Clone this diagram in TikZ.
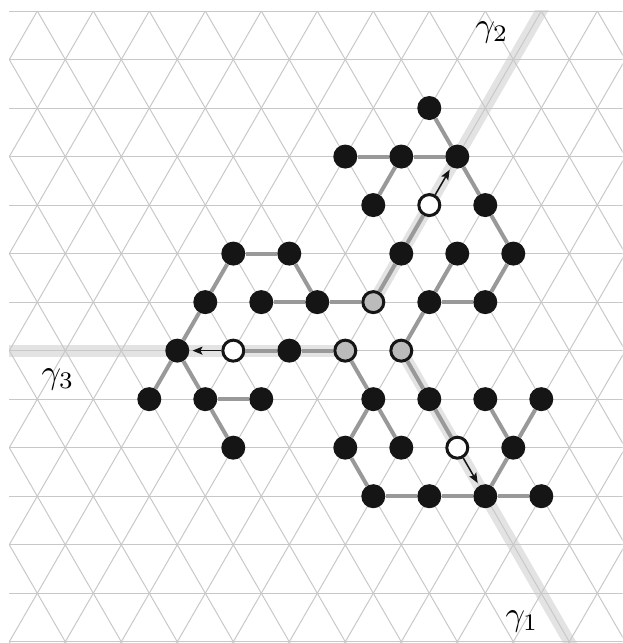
\documentclass[tikz,border=0pt]{standalone}
\usepackage{graphicx}
\usetikzlibrary{arrows.meta}
\definecolor{gridc}{HTML}{C8C8C8}
\definecolor{edgec}{HTML}{999999}
\definecolor{bandc}{HTML}{E3E3E3}
\definecolor{nodec}{HTML}{151515}
\definecolor{grayc}{HTML}{BBBBBB}
\begin{document}
\begin{tikzpicture}[x=28pt,y=-48.52pt,
  gridline/.style={draw=gridc,line width=1pt},
  band/.style={draw=bandc,line width=12pt},
  edge/.style={draw=edgec,line width=4pt},
  blk/.style={circle,fill=nodec,minimum size=24pt,inner sep=0pt},
  wht/.style={circle,fill=white,draw=nodec,line width=3pt,minimum size=21pt,inner sep=0pt},
  gry/.style={circle,fill=grayc,draw=nodec,line width=3pt,minimum size=21pt,inner sep=0pt},
  arr/.style={draw=nodec,line width=1.5pt,-{Stealth[length=10pt,width=8pt,inset=2pt]},shorten >=3pt},
  lab/.style={inner sep=0pt}]
\useasboundingbox (-9.3pt,11pt) rectangle (612.7pt,-632pt);
\begin{scope}
  \clip (-0.01,-0.01) rectangle (21.9,13.1);
  \draw[band] (12,7) -- (-1,7);
  \draw[band] (13,6) -- (19.5,-0.5);
  \draw[band] (14,7) -- (20.5,13.5);
  \foreach \r in {0,...,13} \draw[gridline] (-1,\r) -- (23,\r);
  \foreach \c in {-15,-13,...,23} \draw[gridline] (\c,0) -- ++(14,14);
  \foreach \c in {1,3,...,37} \draw[gridline] (\c,0) -- ++(-14,14);
\end{scope}
% black nodes
\foreach \c/\r in {15/2,12/3,14/3,16/3,13/4,17/4,14/5,16/5,18/5,15/6,17/6,
  8/5,10/5,7/6,9/6,11/6,6/7,10/7,5/8,7/8,9/8,8/9,
  13/8,15/8,17/8,19/8,12/9,14/9,18/9,13/10,15/10,17/10,19/10}
  \node[blk] (v\c-\r) at (\c,\r) {};
% white nodes
\node[wht] (v15-4) at (15,4) {};
\node[wht] (v8-7) at (8,7) {};
\node[wht] (v16-9) at (16,9) {};
% gray nodes
\node[gry] (v13-6) at (13,6) {};
\node[gry] (v12-7) at (12,7) {};
\node[gry] (v14-7) at (14,7) {};
% edges
\foreach \a/\b in {15-2/16-3,12-3/14-3,14-3/16-3,14-3/13-4,16-3/17-4,17-4/18-5,18-5/17-6,17-6/15-6,15-6/16-5,15-6/14-7,
  8-5/10-5,8-5/7-6,10-5/11-6,11-6/13-6,9-6/11-6,7-6/6-7,6-7/5-8,6-7/7-8,7-8/9-8,7-8/8-9,
  12-7/13-8,13-8/12-9,13-8/14-9,12-9/13-10,13-10/15-10,15-10/17-10,17-10/19-10,17-10/18-9,18-9/17-8,18-9/19-8,
  13-6/14-5,14-5/15-4,12-7/10-7,10-7/8-7,14-7/15-8,15-8/16-9}
  \draw[edge] (v\a) -- (v\b);
% arrows
\draw[arr] (v15-4) -- (v16-3);
\draw[arr] (v8-7) -- (v6-7);
\draw[arr] (v16-9) -- (v17-10);
% labels
\node[lab] (g2) at (17.24,0.45) {\scalebox{3.4}{$\gamma_2$}};
\node[lab] (g1) at (18.31,12.59) {\scalebox{3.4}{$\gamma_1$}};
\node[lab] (g3) at (1.74,7.6) {\scalebox{3.4}{$\gamma_3$}};
\end{tikzpicture}
\end{document}
